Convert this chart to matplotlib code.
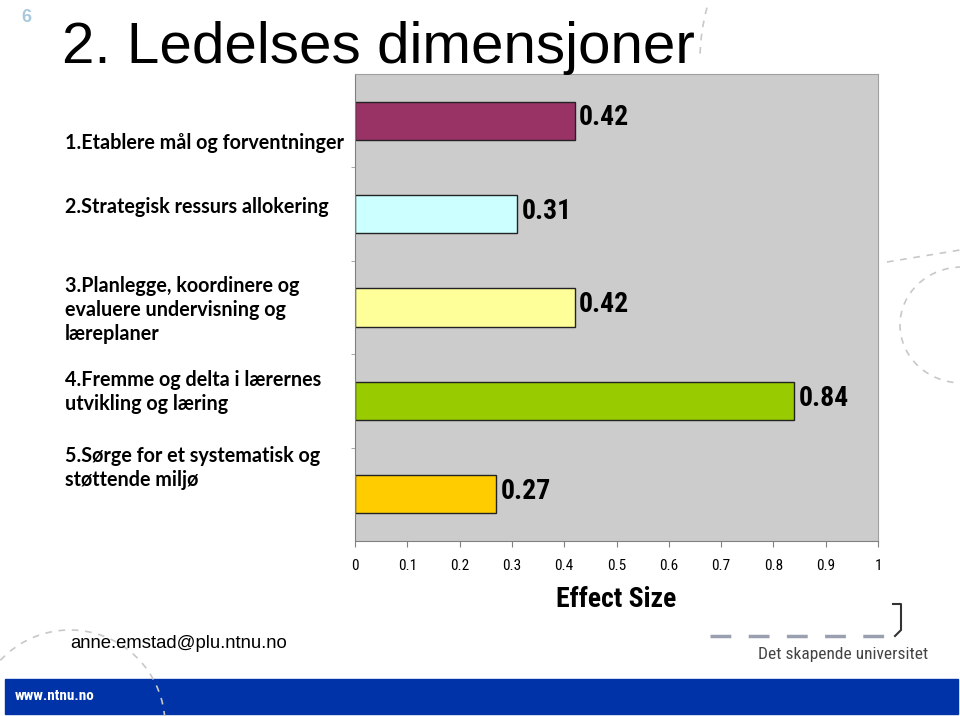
import numpy as np
import matplotlib
matplotlib.use('Agg')
import matplotlib.pyplot as plt
from matplotlib.patches import Arc

W, H = 960, 716

categories = [
    "1.Etablere mål og forventninger",
    "2.Strategisk ressurs allokering",
    "3.Planlegge, koordinere og\nevaluere undervisning og\nlæreplaner",
    "4.Fremme og delta i lærernes\nutvikling og læring",
    "5.Sørge for et systematisk og\nstøttende miljø",
]
effect_sizes = [0.42, 0.31, 0.42, 0.84, 0.27]
bar_colors = ["#993366", "#ccffff", "#ffff99", "#99cc00", "#ffcc00"]
x_ticks = [0, 0.1, 0.2, 0.3, 0.4, 0.5, 0.6, 0.7, 0.8, 0.9, 1]
x_tick_labels = ["0", "0.1", "0.2", "0.3", "0.4", "0.5", "0.6", "0.7", "0.8", "0.9", "1"]

NARROW = ["Liberation Sans Narrow", "Roboto Condensed", "Liberation Sans"]
LABEL_FONT = ["Lato", "DejaVu Sans"]
SANS = ["Liberation Sans", "DejaVu Sans"]


def fx(px):
    return px / W


def fy(py):
    return 1 - py / H


fig = plt.figure(figsize=(9.6, 7.16), dpi=100)
fig.patch.set_facecolor("white")

# chart area
ax = fig.add_axes([fx(355), fy(541), fx(878) - fx(355), fy(74) - fy(541)])
ax.set_facecolor("#cccccc")
y = np.arange(len(effect_sizes))
ax.barh(y, effect_sizes, height=0.41, color=bar_colors, edgecolor="#222222", linewidth=1)
ax.set_xlim(0, 1)
ax.set_ylim(len(effect_sizes) - 0.5, -0.5)
ax.set_yticks([])
ax.set_yticks(np.arange(0.5, len(effect_sizes) - 0.5, 1), minor=True)
ax.tick_params(axis="y", which="minor", length=3, color="#9a9a9a", direction="out")
ax.set_xticks(x_ticks)
ax.set_xticklabels(x_tick_labels, family=NARROW, fontsize=11)
ax.tick_params(axis="x", length=4, color="#808080", pad=9)
for side in ["left", "bottom"]:
    ax.spines[side].set_color("#808080")
for side in ["top", "right"]:
    ax.spines[side].set_color("#a0a0a0")
ax.set_xlabel("Effect Size", family=NARROW, fontsize=20, fontweight="bold", labelpad=9)

for yi, v in zip(y, effect_sizes):
    ax.text(v + 0.008, yi - 0.03, f"{v:.2f}", family=NARROW, fontsize=20,
            fontweight="bold", va="center", ha="left")

# category labels to the left of the chart
label_y = [143, 207, 310, 392, 468]
for txt, py in zip(categories, label_y):
    fig.text(fx(65), fy(py), txt, family=LABEL_FONT, fontsize=14.2, fontweight="bold",
             va="center", ha="left", linespacing=1.22)

# slide title and number
fig.text(fx(62), fy(63), "2. Ledelses dimensjoner", family=SANS,
         fontsize=42, va="baseline", ha="left")
fig.text(fx(21), fy(18), "6", family=SANS, fontsize=13,
         color="#a8c8dc", fontweight="bold", va="center", ha="left")

# decorative dashed arcs
for cx, cy, w, h, t1, t2 in [(962, 325, 124, 116, 90, 270), (70, 725, 190, 190, 6, 130),
                             (900, 60, 400, 400, 160, 180)]:
    arc = Arc((fx(cx), fy(cy)), fx(w), h / H, theta1=t1, theta2=t2, transform=fig.transFigure,
              color="#c8c8c8", linestyle=(0, (4, 4)), linewidth=1.2, zorder=3)
    fig.add_artist(arc)
fig.add_artist(plt.Line2D([fx(887), fx(960)], [fy(262), fy(250)], transform=fig.transFigure,
                          color="#c8c8c8", linewidth=1.2, linestyle=(0, (4, 4))))

# footer
fig.text(fx(70), fy(643), "anne.emstad@plu.ntnu.no", family=SANS,
         fontsize=13.3, va="center", ha="left")
fig.add_artist(plt.Rectangle((fx(5), fy(714)), fx(953), (714 - 679) / H,
                             transform=fig.transFigure, color="#0033a8", zorder=0))
fig.text(fx(15), fy(696), "www.ntnu.no", family=NARROW, fontsize=11, fontweight="bold",
         color="white", va="center", ha="left")
fig.text(fx(928), fy(655), "Det skapende universitet", family=NARROW,
         fontsize=12.5, color="#444444", va="center", ha="right")
fig.add_artist(plt.Line2D([fx(710), fx(890)], [fy(636), fy(636)], transform=fig.transFigure,
                          color="#9aa0b0", linewidth=2.5, linestyle=(0, (6, 5))))
fig.add_artist(plt.Line2D([fx(893), fx(901), fx(901), fx(895)], [fy(604), fy(604), fy(630), fy(636)],
                          transform=fig.transFigure, color="#333333", linewidth=1.5))

fig.savefig("out.png", dpi=100, facecolor="white")
